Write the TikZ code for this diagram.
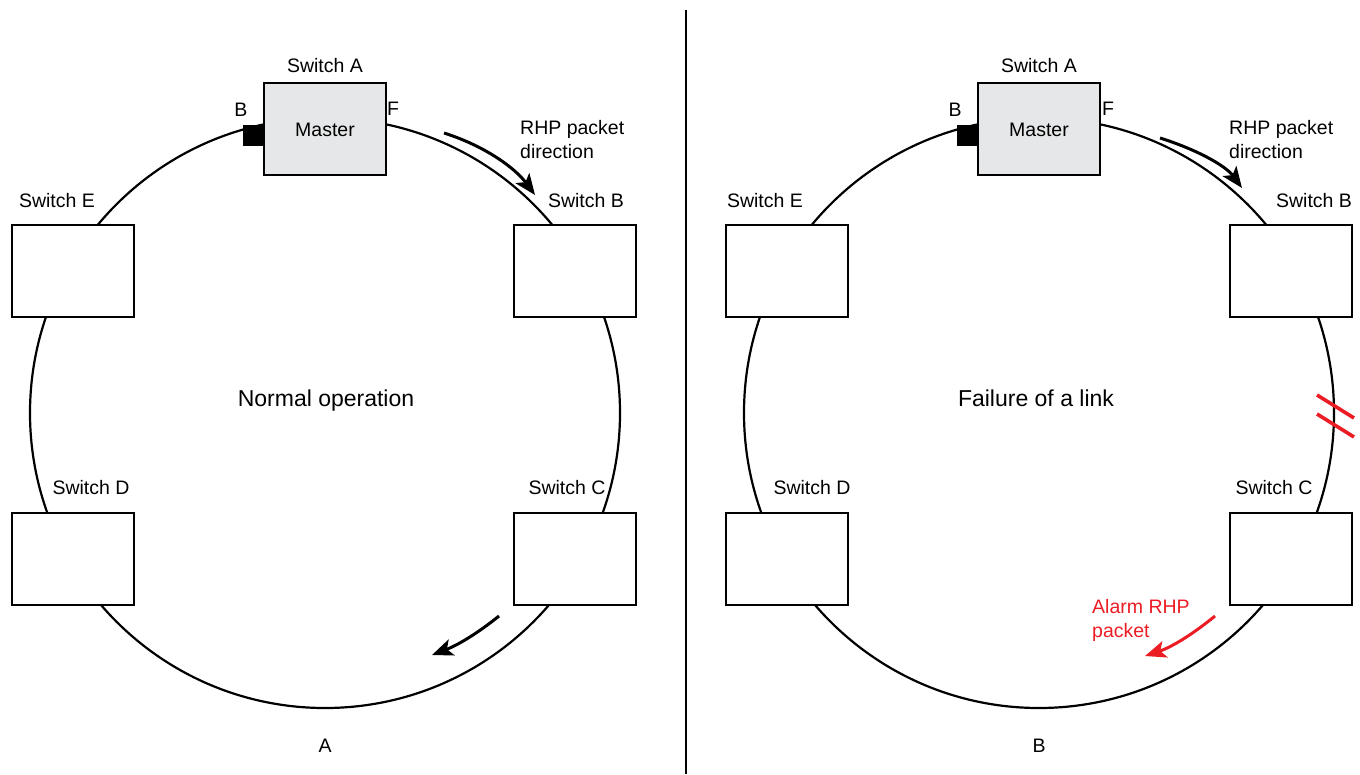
\documentclass[tikz,border=0pt]{standalone}
\usepackage{fontspec}
\setmainfont{Liberation Sans}
\usetikzlibrary{arrows.meta}
\definecolor{alarmred}{RGB}{236,28,36}
\definecolor{mastergray}{RGB}{230,231,232}
\tikzset{
  ring/.style={circle, draw, line width=2.2pt, minimum size=590pt, inner sep=0pt},
  swbox/.style={rectangle, draw, fill=white, line width=2pt, minimum width=122pt, minimum height=92pt, inner sep=0pt},
  masterbox/.style={swbox, fill=mastergray},
  port/.style={rectangle, fill=black, minimum width=20pt, minimum height=21pt, inner sep=0pt},
  lbl/.style={inner sep=0pt, font=\fontsize{19.5}{24}\selectfont, align=left},
  bigl/.style={inner sep=0pt, font=\fontsize{23}{28}\selectfont},
  flow/.style={line width=3pt, -{Stealth[length=21pt,width=17pt,inset=5pt]}},
  alarm/.style={flow, draw=alarmred},
  breakmark/.style={draw=alarmred, line width=3.6pt},
  divider/.style={line width=2pt}
}
\begin{document}
\begin{tikzpicture}[x=1pt,y=-1pt]
\useasboundingbox (0,0) rectangle (1360,774);
% divider
\coordinate (dtop) at (686,10);
\coordinate (dbot) at (686,774);
\draw[divider] (dtop) -- (dbot);

% ===== Panel A =====
\node[ring] (ringA) at (325,413) {};
\node[masterbox] (mA) at (325,129) {};
\node[lbl] (mAt) at (325,130) {Master};
\node[port] (pA) at (252.5,135.5) {};
\node[swbox] (bA) at (575,270.5) {};
\node[swbox] (eA) at (73,270.5) {};
\node[swbox] (dA) at (73,559) {};
\node[swbox] (cA) at (575,559) {};
\node[lbl] (lAA) at (325,66) {Switch A};
\node[lbl] (lAB) at (241,110) {B};
\node[lbl] (lAF) at (393,109) {F};
\node[lbl] (lBA) at (586,201) {Switch B};
\node[lbl] (lEA) at (57,201) {Switch E};
\node[lbl] (lDA) at (91,488) {Switch D};
\node[lbl] (lCA) at (567,488) {Switch C};
\node[lbl, anchor=west] (rhpA) at (520,140) {RHP packet\\direction};
\node[bigl] (normal) at (326,401) {Normal operation};
\node[lbl] (capA) at (325,746) {A};
\coordinate (a1s) at (444,133);
\coordinate (a1e) at (535,195);
\draw[flow] (a1s) .. controls (485,146) and (515,168) .. (a1e);
\coordinate (a2s) at (499,616);
\coordinate (a2e) at (432,655);
\draw[flow] (a2s) .. controls (478,633) and (458,645) .. (a2e);

% ===== Panel B =====
\node[ring] (ringB) at (1039,413) {};
\node[masterbox] (mB) at (1039,129) {};
\node[lbl] (mBt) at (1039,130) {Master};
\node[port] (pB) at (967,135.5) {};
\node[swbox] (bB) at (1290.5,270.5) {};
\node[swbox] (eB) at (787,270.5) {};
\node[swbox] (dB) at (787,559) {};
\node[swbox] (cB) at (1290.5,559) {};
\node[lbl] (lAB2) at (1039,66) {Switch A};
\node[lbl] (lBB2) at (955,110) {B};
\node[lbl] (lFB2) at (1108,109) {F};
\node[lbl] (lBB) at (1314,201) {Switch B};
\node[lbl] (lEB) at (765,201) {Switch E};
\node[lbl] (lDB) at (812,488) {Switch D};
\node[lbl] (lCB) at (1274,488) {Switch C};
\node[lbl, anchor=west] (rhpB) at (1229,140) {RHP packet\\direction};
\node[bigl] (failure) at (1036,398) {Failure of a link};
\node[lbl] (capB) at (1039,746) {B};
\coordinate (b1s) at (1160,138);
\coordinate (b1e) at (1242,188);
\draw[flow] (b1s) .. controls (1195,149) and (1225,165) .. (b1e);
% link break
\coordinate (k1s) at (1317,395);
\coordinate (k1e) at (1354,418);
\coordinate (k2s) at (1317,414);
\coordinate (k2e) at (1354,437);
\draw[breakmark] (k1s) -- (k1e);
\draw[breakmark] (k2s) -- (k2e);
% alarm
\node[lbl, text=alarmred, anchor=west] (alarmt) at (1092,620) {Alarm RHP\\packet};
\coordinate (r1s) at (1215,616);
\coordinate (r1e) at (1145,656);
\draw[alarm] (r1s) .. controls (1193,634) and (1172,647) .. (r1e);
\end{tikzpicture}
\end{document}
